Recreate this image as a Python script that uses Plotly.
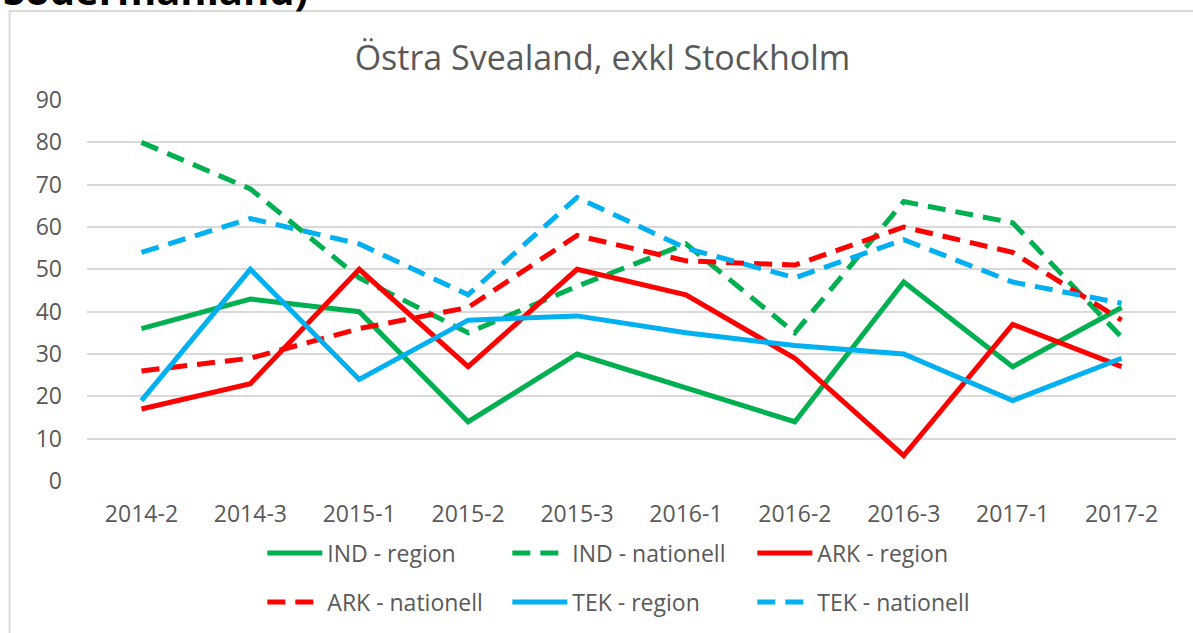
import plotly.graph_objects as go

categories = ["2014-2", "2014-3", "2015-1", "2015-2", "2015-3",
              "2016-1", "2016-2", "2016-3", "2017-1", "2017-2"]

ind_region = [36, 43, 40, 14, 30, 22, 14, 47, 27, 41]
ind_nationell = [80, 69, 48, 35, 46, 56, 35, 66, 61, 34]
ark_region = [17, 23, 50, 27, 50, 44, 29, 6, 37, 27]
ark_nationell = [26, 29, 36, 41, 58, 52, 51, 60, 54, 38]
tek_region = [19, 50, 24, 38, 39, 35, 32, 30, 19, 29]
tek_nationell = [54, 62, 56, 44, 67, 55, 48, 57, 47, 42]

y_ticks = [0, 10, 20, 30, 40, 50, 60, 70, 80, 90]

GREEN = "#00B050"
RED = "#FF0000"
BLUE = "#00B0F0"
DASH = "18px,10px"
FONT = "Open Sans"
TXT = "#595959"

series = [
    ("IND - region", ind_region, GREEN, "solid", "legend"),
    ("IND - nationell", ind_nationell, GREEN, DASH, "legend"),
    ("ARK - region", ark_region, RED, "solid", "legend"),
    ("ARK - nationell", ark_nationell, RED, DASH, "legend2"),
    ("TEK - region", tek_region, BLUE, "solid", "legend2"),
    ("TEK - nationell", tek_nationell, BLUE, DASH, "legend2"),
]

fig = go.Figure()
for name, vals, color, dash, leg in series:
    fig.add_trace(go.Scatter(
        x=categories, y=vals, name=name, mode="lines",
        line=dict(color=color, width=5, dash=dash),
        legend=leg,
    ))

W, H = 1193, 633
L, R, T, B = 86.5, 16.5, 100, 152
pw = W - L - R
ph = H - T - B

def px2x(px):
    return (px - L) / pw

def py2y(py):
    return (H - B - py) / ph

leg_common = dict(
    orientation="h", xanchor="left", yanchor="middle",
    font=dict(family=FONT, size=23, color=TXT),
    bgcolor="rgba(0,0,0,0)", entrywidth=175, itemwidth=55,
)

fig.update_layout(
    width=W, height=H,
    margin=dict(l=L, r=R, t=T, b=B, autoexpand=False),
    paper_bgcolor="white", plot_bgcolor="white",
    title=dict(text="Östra Svealand, exkl Stockholm", xref="container", x=0.505,
               xanchor="center", yref="container", y=1 - 58 / H, yanchor="middle",
               font=dict(family=FONT, size=34, color=TXT)),
    xaxis=dict(type="category", range=[-0.5, len(categories) - 0.5],
               showgrid=False, showline=False, zeroline=False, ticks="",
               ticklabelstandoff=17,
               tickfont=dict(family=FONT, size=23, color=TXT)),
    yaxis=dict(range=[0, 90], tickvals=y_ticks, showgrid=True, gridcolor="#D9D9D9",
               gridwidth=2, zeroline=False, showline=False, ticks="",
               ticklabelstandoff=24,
               tickfont=dict(family=FONT, size=23, color=TXT)),
    legend=dict(x=px2x(262), y=py2y(553), **leg_common),
    legend2=dict(x=px2x(262), y=py2y(602), **leg_common),
    showlegend=True,
    shapes=[dict(type="rect", xref="paper", yref="paper",
                 x0=px2x(9), x1=px2x(1205), y0=py2y(650), y1=py2y(11),
                 line=dict(color="#D9D9D9", width=2), fillcolor="rgba(0,0,0,0)",
                 layer="below")],
    annotations=[dict(text="<b>Södermanland)</b>", xref="paper", yref="paper",
                      x=px2x(0), y=py2y(-10), xanchor="left", yanchor="middle",
                      showarrow=False,
                      font=dict(family=FONT, size=40, color="black"))],
)

fig.write_html("out.html", config={"displayModeBar": False},
               post_script="document.body.style.margin='0';")
